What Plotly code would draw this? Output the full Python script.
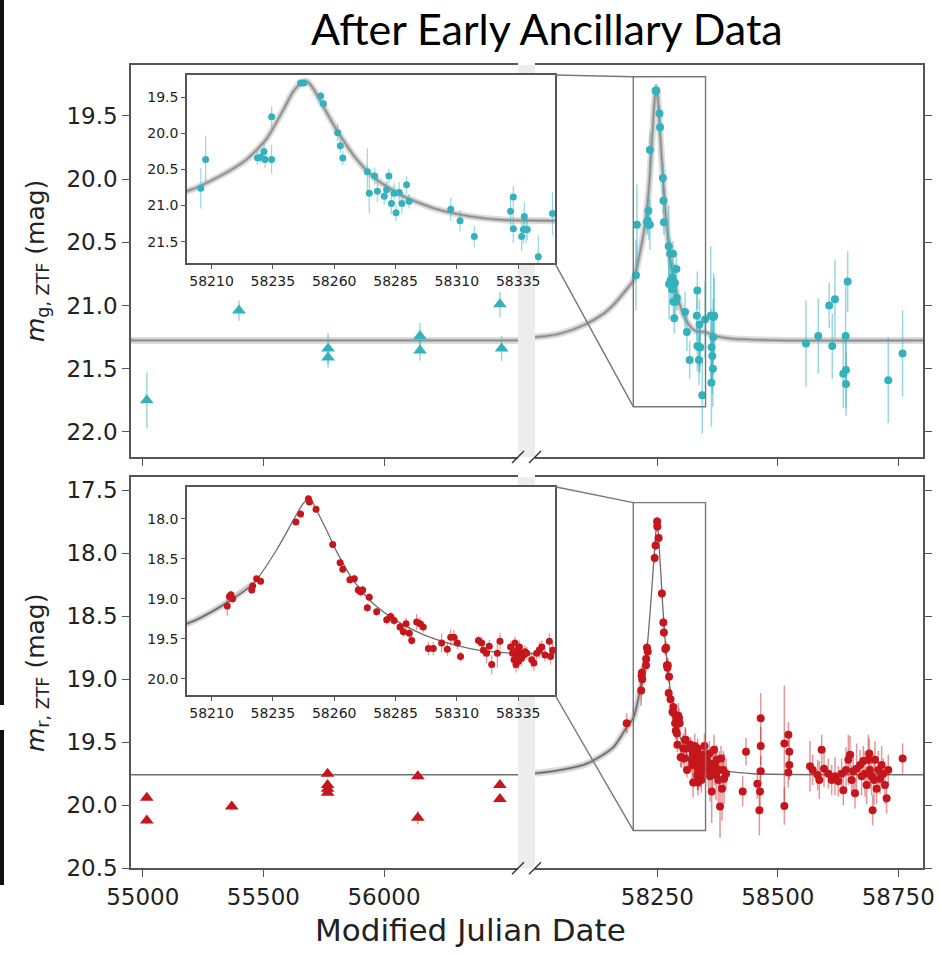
import plotly.graph_objects as go

W, H = 941, 957

# ---------------- data ----------------
g_ul_mjd = [55017, 55399, 55768, 55768, 56149, 56149, 56480, 56487]
g_ul_mag = [21.75, 21.04, 21.34, 21.41, 21.24, 21.355, 20.99, 21.34]
g_ul_err = [0.22, 0.08, 0.12, 0.08, 0.10, 0.08, 0.10, 0.10]

r_ul_mjd = [55017, 55017, 55369, 55766, 55766, 55766, 55766, 56140, 56140, 56480, 56480]
r_ul_mag = [19.94, 20.12, 20.01, 19.75, 19.84, 19.87, 19.90, 19.77, 20.10, 19.84, 19.95]
r_ul_err = [0.02, 0.03, 0.03, 0.03, 0.02, 0.02, 0.02, 0.03, 0.05, 0.02, 0.02]

g_mjd = [58205.6, 58207.6, 58228.7, 58230.0, 58231.4, 58231.8, 58234.5, 58234.5, 58246.3, 58247.7,
         58254.5, 58255.6, 58261.4, 58262.5, 58263.5, 58273.5, 58274.3, 58276.5, 58277.6, 58280.4,
         58281.4, 58282.3, 58283.3, 58284.4, 58285.2, 58286.5, 58287.6, 58289.5, 58290.5, 58307.5,
         58311.3, 58317.1, 58331.9, 58333.0, 58333.0, 58336.4, 58337.1, 58337.5, 58338.2, 58338.7,
         58343.2, 58349.0, 58360.8, 58362.2, 58362.7, 58364.0, 58365.3, 58365.9, 58366.7, 58368.0,
         58558.5, 58584.0, 58606.8, 58613.0, 58618.6, 58635.9, 58640.8, 58641.5, 58641.5, 58645.0,
         58729.3, 58759.0]
g_mag = [20.76, 20.36, 20.34, 20.33, 20.25, 20.36, 19.77, 20.36, 19.30, 19.30,
         19.48, 19.59, 19.99, 20.17, 20.34, 20.53, 20.83, 20.59, 20.80, 20.87,
         20.78, 20.59, 20.97, 20.83, 21.10, 20.82, 20.97, 20.71, 20.94, 21.05,
         21.21, 21.43, 21.08, 20.88, 21.32, 21.43, 21.33, 21.15, 21.33, 21.33,
         21.71, 21.11, 21.08, 21.61, 21.33, 21.40, 21.50, 21.25, 21.09, 21.08,
         21.30, 21.24, 21.00, 21.32, 20.95, 21.54, 21.24, 21.51, 21.62, 20.81,
         21.59, 21.38]
g_err = [0.28, 0.32, 0.10, 0.08, 0.12, 0.12, 0.14, 0.20, 0.05, 0.05,
         0.06, 0.06, 0.12, 0.10, 0.10, 0.32, 0.28, 0.12, 0.15, 0.12,
         0.12, 0.10, 0.15, 0.15, 0.12, 0.15, 0.15, 0.12, 0.10, 0.16,
         0.15, 0.15, 0.20, 0.15, 0.20, 0.20, 0.20, 0.20, 0.20, 0.15,
         0.30, 0.30, 0.55, 0.35, 0.30, 0.30, 0.30, 0.30, 0.35, 0.30,
         0.34, 0.30, 0.18, 0.26, 0.31, 0.27, 0.41, 0.30, 0.25, 0.24,
         0.34, 0.34]

r_peak_mjd = [58186.4, 58216.4, 58217.3, 58217.9, 58218.6, 58226.4, 58226.8, 58228.4, 58230.0, 58244.4,
              58246.3, 58249.5, 58249.9, 58252.6, 58259.4, 58262.4, 58263.5, 58266.4, 58268.2, 58269.8,
              58270.8, 58271.6, 58273.5, 58274.3, 58277.3, 58281.4, 58283.0, 58284.4, 58286.8, 58288.2,
              58289.3, 58290.6, 58291.6, 58293.6, 58295.0, 58296.3, 58298.4, 58300.4, 58303.8, 58306.1,
              58307.5, 58308.8, 58310.2, 58311.5, 58318.8, 58320.1, 58320.8, 58322.1, 58323.2, 58324.2,
              58326.5, 58327.6, 58331.9, 58332.7, 58333.3, 58333.7, 58334.1, 58334.4, 58334.6, 58335.1,
              58335.5, 58335.7, 58336.4, 58337.1, 58337.8, 58338.5, 58340.5, 58341.4, 58342.5, 58343.6,
              58344.6, 58345.9, 58347.7, 58348.2, 58349.0]
r_peak_mag = [19.35, 19.09, 18.97, 18.95, 19.00, 18.89, 18.84, 18.75, 18.78, 18.04,
              17.94, 17.75, 17.79, 17.88, 18.32, 18.55, 18.63, 18.76, 18.75, 18.89,
              18.91, 18.89, 19.11, 18.98, 19.16, 19.26, 19.22, 19.27, 19.35, 19.41,
              19.31, 19.43, 19.52, 19.29, 19.31, 19.35, 19.62, 19.62, 19.55, 19.63,
              19.48, 19.48, 19.55, 19.72, 19.52, 19.55, 19.64, 19.68, 19.59, 19.82,
              19.68, 19.53, 19.60, 19.68, 19.76, 19.55, 19.82, 19.64, 19.72, 19.78,
              19.60, 19.68, 19.74, 19.70, 19.66, 19.68, 19.76, 19.80, 19.68, 19.64,
              19.60, 19.70, 19.53, 19.72, 19.64]
r_peak_err = [0.08, 0.12, 0.06, 0.05, 0.05, 0.05, 0.05, 0.04, 0.04, 0.04,
              0.04, 0.04, 0.04, 0.03, 0.04, 0.04, 0.04, 0.05, 0.05, 0.06,
              0.06, 0.06, 0.05, 0.05, 0.05, 0.06, 0.06, 0.06, 0.06, 0.07,
              0.07, 0.08, 0.06, 0.10, 0.08, 0.07, 0.08, 0.08, 0.12, 0.08,
              0.10, 0.09, 0.08, 0.06, 0.06, 0.07, 0.08, 0.12, 0.08, 0.12,
              0.18, 0.10, 0.08, 0.10, 0.12, 0.08, 0.10, 0.10, 0.12, 0.10,
              0.08, 0.08, 0.10, 0.08, 0.08, 0.08, 0.10, 0.10, 0.08, 0.10,
              0.08, 0.08, 0.10, 0.10, 0.10]

r_tail_mjd = [58352.4, 58355.9, 58358.0, 58359.3, 58360.7, 58362.8, 58364.9, 58367.6, 58369.7, 58371.8,
              58373.2, 58376.6, 58378.7, 58380.1, 58382.2, 58384.2, 58387.0, 58388.4, 58392.5, 58427.1,
              58434.0, 58457.5, 58461.7, 58464.5, 58464.5, 58464.5, 58463.1, 58513.6, 58513.6, 58521.9,
              58523.9, 58523.9, 58521.9, 58566.8, 58572.4, 58582.7, 58586.2, 58591.0, 58595.9, 58604.9,
              58611.8, 58618.7, 58625.6, 58632.5, 58636.0, 58641.5, 58646.4, 58649.8, 58653.3, 58656.7,
              58660.2, 58663.6, 58670.6, 58674.0, 58677.5, 58680.9, 58684.4, 58687.9, 58689.9, 58691.3,
              58694.8, 58696.8, 58699.6, 58701.7, 58705.1, 58708.6, 58712.1, 58715.5, 58719.0, 58722.4,
              58725.9, 58729.3, 58759.1]
r_tail_mag = [19.64, 19.72, 19.59, 19.77, 19.67, 19.89, 19.73, 19.56, 19.69, 19.76,
              19.64, 19.80, 19.72, 20.01, 19.63, 19.87, 19.72, 19.79, 19.75, 19.89,
              19.575, 19.83, 20.04, 19.31, 19.53, 19.73, 19.89, 19.51, 20.005, 19.44,
              19.575, 19.68, 19.74, 19.69, 19.72, 19.76, 19.80, 19.56, 19.71, 19.75,
              19.80, 19.77, 19.81, 19.75, 19.88, 19.72, 19.64, 19.60, 19.80, 19.73,
              19.905, 19.71, 19.68, 19.77, 19.65, 19.75, 19.84, 19.64, 19.59, 19.72,
              19.77, 20.04, 19.80, 19.64, 19.87, 19.72, 19.79, 19.68, 19.75, 19.84,
              19.945, 19.72, 19.63]
r_tail_err = [0.12, 0.15, 0.10, 0.20, 0.12, 0.25, 0.15, 0.12, 0.15, 0.20,
              0.12, 0.18, 0.15, 0.25, 0.10, 0.25, 0.15, 0.20, 0.12, 0.12,
              0.11, 0.12, 0.20, 0.20, 0.15, 0.12, 0.12, 0.46, 0.15, 0.10,
              0.15, 0.12, 0.12, 0.20, 0.12, 0.12, 0.15, 0.12, 0.15, 0.12,
              0.12, 0.15, 0.12, 0.12, 0.12, 0.18, 0.20, 0.15, 0.12, 0.15,
              0.12, 0.20, 0.12, 0.15, 0.12, 0.18, 0.15, 0.20, 0.12, 0.15,
              0.15, 0.12, 0.20, 0.15, 0.12, 0.15, 0.12, 0.15, 0.12, 0.15,
              0.12, 0.12, 0.12]

g_model_mjd = [54900, 56600, 57996, 58050, 58100, 58140, 58160, 58180, 58200, 58213.5,
               58224.3, 58232.5, 58239.3, 58243.3, 58246.7, 58249.0, 58251.5, 58255.6, 58261.0, 58269.2,
               58277.3, 58288.2, 58301.8, 58315.4, 58329.0, 58349.0, 58370.0, 58400.0, 58500.0, 58810.0]
g_model_mag = [21.276, 21.276, 21.25, 21.22, 21.15, 21.06, 20.99, 20.90, 20.80, 20.59,
               20.36, 20.07, 19.67, 19.42, 19.30, 19.28, 19.38, 19.63, 19.95, 20.36,
               20.64, 20.87, 21.05, 21.15, 21.20, 21.21, 21.24, 21.26, 21.275, 21.276]
r_model_mjd = [54900, 56600, 57996, 58050, 58103.5, 58158.7, 58186.5, 58200, 58213.5, 58227,
               58236.5, 58243.3, 58247.4, 58249.9, 58252.9, 58257, 58261, 58267.8, 58274.6, 58282.7,
               58292.3, 58301.8, 58315.4, 58329, 58349, 58394, 58450, 58810]
r_model_mag = [19.758, 19.758, 19.747, 19.72, 19.67, 19.54, 19.38, 19.31, 19.10, 18.81,
               18.39, 18.02, 17.81, 17.74, 17.90, 18.15, 18.41, 18.77, 19.02, 19.22,
               19.39, 19.51, 19.62, 19.67, 19.69, 19.73, 19.75, 19.758]

left_ticks = [55000, 55500, 56000]
right_ticks = [58250, 58500, 58750]
g_ticks = [19.5, 20.0, 20.5, 21.0, 21.5, 22.0]
r_ticks = [17.5, 18.0, 18.5, 19.0, 19.5, 20.0, 20.5]
inset_xticks = [58210, 58235, 58260, 58285, 58310, 58335]
inset_g_ticks = [19.5, 20.0, 20.5, 21.0, 21.5]
inset_r_ticks = [18.0, 18.5, 19.0, 19.5, 20.0]

left_range = [54951.5, 56555]
right_range = [57996, 58802]
g_range = [22.198, 19.097]
r_range = [20.5, 17.399]
inset_x_range = [58200, 58350]
inset_g_range = [21.8, 19.19]
inset_r_range = [20.2, 17.6]


def fx(p):
    return p / W


def fy(p):
    return 1 - p / H


X_LEFT = [fx(131), fx(518)]
X_RIGHT = [fx(535), fx(923.3)]
Y_TOP = [fy(457), fy(65)]
Y_BOT = [fy(868.3), fy(477.3)]
X_INSET = [fx(187), fx(555)]
Y_INSET_TOP = [fy(263.3), fy(75)]
Y_INSET_BOT = [fy(695), fy(486.7)]

G_COL = '#33b2be'
G_ERR = 'rgba(51,178,190,0.5)'
R_COL = '#c4161c'
R_ERR = 'rgba(196,22,28,0.45)'
AX = '#555555'
FONT = 'DejaVu Sans'

fig = go.Figure()


def add_fuzz(xs, ys, xa, ya):
    fig.add_trace(go.Scatter(x=xs, y=ys, xaxis=xa, yaxis=ya, mode='lines',
                             line=dict(color='rgba(175,175,175,0.4)', width=7, shape='spline', smoothing=0.7),
                             hoverinfo='skip'))
    fig.add_trace(go.Scatter(x=xs, y=ys, xaxis=xa, yaxis=ya, mode='lines',
                             line=dict(color='rgba(150,150,150,0.55)', width=3.5, shape='spline', smoothing=0.7),
                             hoverinfo='skip'))


def add_line(xs, ys, xa, ya, dark):
    fig.add_trace(go.Scatter(x=xs, y=ys, xaxis=xa, yaxis=ya, mode='lines',
                             line=dict(color='rgba(85,85,85,0.85)' if dark else 'rgba(120,120,120,0.7)',
                                       width=1.3, shape='spline', smoothing=0.7),
                             hoverinfo='skip'))


def add_pts(xs, ys, es, xa, ya, col, ecol, size, symbol='circle', thick=1.5):
    fig.add_trace(go.Scatter(x=xs, y=ys, xaxis=xa, yaxis=ya, mode='markers',
                             marker=dict(color=col, size=size, symbol=symbol, line=dict(width=0)),
                             error_y=dict(type='data', array=es, visible=True, color=ecol,
                                          thickness=thick, width=0)))


# rising part of the r model is drawn with a spread band
r_rise_mjd = r_model_mjd[2:10]
r_rise_mag = r_model_mag[2:10]

# top panel (g)
add_fuzz(g_model_mjd, g_model_mag, 'x', 'y')
add_line(g_model_mjd, g_model_mag, 'x', 'y', False)
add_fuzz(g_model_mjd, g_model_mag, 'x2', 'y2')
add_line(g_model_mjd, g_model_mag, 'x2', 'y2', False)
add_pts(g_ul_mjd, g_ul_mag, g_ul_err, 'x', 'y', G_COL, G_ERR, 12, 'triangle-up')
add_pts(g_mjd, g_mag, g_err, 'x2', 'y2', G_COL, G_ERR, 8)
# bottom panel (r)
add_line(r_model_mjd, r_model_mag, 'x3', 'y3', True)
add_fuzz(r_rise_mjd, r_rise_mag, 'x4', 'y4')
add_line(r_model_mjd, r_model_mag, 'x4', 'y4', True)
add_pts(r_ul_mjd, r_ul_mag, r_ul_err, 'x3', 'y3', R_COL, R_ERR, 12, 'triangle-up')
add_pts(r_peak_mjd, r_peak_mag, r_peak_err, 'x4', 'y4', R_COL, R_ERR, 8)
add_pts(r_tail_mjd, r_tail_mag, r_tail_err, 'x4', 'y4', R_COL, R_ERR, 8)
# insets
add_fuzz(g_model_mjd, g_model_mag, 'x5', 'y5')
add_line(g_model_mjd, g_model_mag, 'x5', 'y5', False)
add_pts(g_mjd, g_mag, g_err, 'x5', 'y5', G_COL, G_ERR, 7, thick=1.2)
add_fuzz(r_rise_mjd, r_rise_mag, 'x6', 'y6')
add_line(r_model_mjd, r_model_mag, 'x6', 'y6', True)
add_pts(r_peak_mjd, r_peak_mag, r_peak_err, 'x6', 'y6', R_COL, R_ERR, 7, thick=1.2)


def xax(domain, rng, anchor, tickvals, labels, size=23, ticklen=7, mirror=True):
    return dict(domain=domain, range=rng, anchor=anchor, tickvals=tickvals, tickformat='d',
                ticks='outside', ticklen=ticklen, tickwidth=1.3, tickcolor=AX,
                showticklabels=labels, showline=True, linecolor=AX, linewidth=1.5,
                mirror=mirror, showgrid=False, zeroline=False, automargin=False,
                tickfont=dict(family=FONT, size=size, color='#222222'))


def yax(domain, rng, anchor, tickvals, labels, side='left', size=23, ticklen=7, mirror=False):
    return dict(domain=domain, range=rng, anchor=anchor, tickvals=tickvals, tickformat='.1f',
                side=side, ticks='outside', ticklen=ticklen, tickwidth=1.3, tickcolor=AX,
                showticklabels=labels, showline=True, linecolor=AX, linewidth=1.5,
                mirror=mirror, showgrid=False, zeroline=False, automargin=False,
                tickfont=dict(family=FONT, size=size, color='#222222'))


fig.update_layout(
    width=W, height=H, autosize=False,
    margin=dict(l=0, r=0, t=0, b=0, pad=0, autoexpand=False), showlegend=False,
    paper_bgcolor='white', plot_bgcolor='rgba(0,0,0,0)',
    xaxis=xax(X_LEFT, left_range, 'y', left_ticks, False),
    yaxis=yax(Y_TOP, g_range, 'x', g_ticks, True),
    xaxis2=xax(X_RIGHT, right_range, 'y2', right_ticks, False),
    yaxis2=yax(Y_TOP, g_range, 'x2', g_ticks, False, side='right'),
    xaxis3=xax(X_LEFT, left_range, 'y3', left_ticks, True),
    yaxis3=yax(Y_BOT, r_range, 'x3', r_ticks, True),
    xaxis4=xax(X_RIGHT, right_range, 'y4', right_ticks, True),
    yaxis4=yax(Y_BOT, r_range, 'x4', r_ticks, False, side='right'),
    xaxis5=xax(X_INSET, inset_x_range, 'y5', inset_xticks, True, size=14, ticklen=4),
    yaxis5=yax(Y_INSET_TOP, inset_g_range, 'x5', inset_g_ticks, True, size=14, ticklen=4, mirror=True),
    xaxis6=xax(X_INSET, inset_x_range, 'y6', inset_xticks, True, size=14, ticklen=4),
    yaxis6=yax(Y_INSET_BOT, inset_r_range, 'x6', inset_r_ticks, True, size=14, ticklen=4, mirror=True),
)


def to_paper(v, dom, rng):
    return dom[0] + (v - rng[0]) / (rng[1] - rng[0]) * (dom[1] - dom[0])


shapes = []
for ydom in (Y_TOP, Y_BOT):
    shapes.append(dict(type='rect', xref='paper', yref='paper', x0=X_LEFT[1], x1=X_RIGHT[0],
                       y0=ydom[0], y1=ydom[1], fillcolor='#ededed', line=dict(width=0), layer='below'))
for ydom in (Y_INSET_TOP, Y_INSET_BOT):
    shapes.append(dict(type='rect', xref='paper', yref='paper', x0=X_INSET[0], x1=X_INSET[1],
                       y0=ydom[0], y1=ydom[1], fillcolor='white', line=dict(width=0), layer='below'))

for ydom, yrng, irng, iy in ((Y_TOP, g_range, inset_g_range, Y_INSET_TOP),
                             (Y_BOT, r_range, inset_r_range, Y_INSET_BOT)):
    bx0 = to_paper(inset_x_range[0], X_RIGHT, right_range)
    bx1 = to_paper(inset_x_range[1], X_RIGHT, right_range)
    by_top = to_paper(irng[1], ydom, yrng)
    by_bot = to_paper(irng[0], ydom, yrng)
    shapes.append(dict(type='rect', xref='paper', yref='paper', x0=bx0, x1=bx1, y0=by_bot, y1=by_top,
                       line=dict(color='#777777', width=1.4)))
    shapes.append(dict(type='line', xref='paper', yref='paper', x0=X_INSET[1], y0=iy[1], x1=bx0, y1=by_top,
                       line=dict(color='#777777', width=1.4)))
    shapes.append(dict(type='line', xref='paper', yref='paper', x0=X_INSET[1], y0=iy[0], x1=bx0, y1=by_bot,
                       line=dict(color='#777777', width=1.4)))

for yb in (457, 868.3):
    for xb in (518, 535):
        shapes.append(dict(type='line', xref='paper', yref='paper', x0=fx(xb - 6), y0=fy(yb + 6),
                           x1=fx(xb + 6), y1=fy(yb - 6), line=dict(color='#333333', width=1.5)))

# slide-edge artefacts at the far left
shapes.append(dict(type='rect', xref='paper', yref='paper', x0=0, x1=fx(4), y0=fy(705), y1=1,
                   fillcolor='#111111', line=dict(width=0)))
shapes.append(dict(type='rect', xref='paper', yref='paper', x0=0, x1=fx(4), y0=fy(885), y1=fy(730),
                   fillcolor='#111111', line=dict(width=0)))
fig.update_layout(shapes=shapes)

ann = [
    dict(text='After Early Ancillary Data', x=fx(547), y=fy(28), font=dict(family='Lato', size=43, color='#000')),
    dict(text='<i>m</i><sub>g, ZTF</sub> (mag)', x=fx(37), y=fy(261), textangle=-90,
         font=dict(family=FONT, size=25, color='#222')),
    dict(text='<i>m</i><sub>r, ZTF</sub> (mag)', x=fx(37), y=fy(673), textangle=-90,
         font=dict(family=FONT, size=25, color='#222')),
    dict(text='Modified Julian Date', x=fx(470), y=fy(930), font=dict(family=FONT, size=31, color='#222')),
]
for a in ann:
    a.update(xref='paper', yref='paper', showarrow=False, xanchor='center', yanchor='middle')
fig.update_layout(annotations=ann)

fig.write_html('out.html')
